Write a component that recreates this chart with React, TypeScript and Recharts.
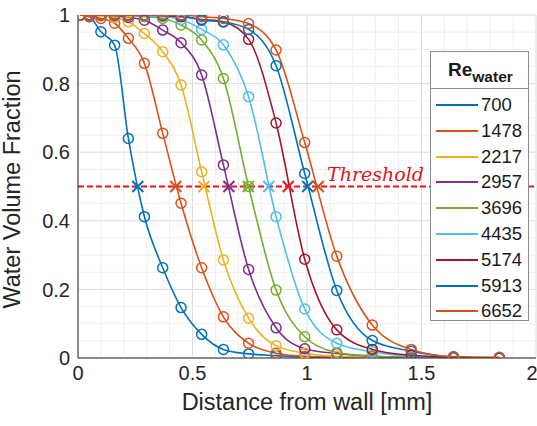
import React from 'react';
import {
  ComposedChart, Line, Scatter, XAxis, YAxis, CartesianGrid, ReferenceLine, Label,
} from 'recharts';

// ── Data ──────────────────────────────────────────────────────────────────────

// sampled distances from the wall [mm] (non-uniform mesh, shared by all runs)
const distance = [0.01, 0.05, 0.10, 0.16, 0.22, 0.29, 0.37, 0.45, 0.54, 0.635, 0.745, 0.865, 0.99, 1.13, 1.285, 1.455, 1.64, 1.84];

const reWater = ['700', '1478', '2217', '2957', '3696', '4435', '5174', '5913', '6652'];

const frac700  = [1, 0.995, 0.951, 0.912, 0.64, 0.412, 0.263, 0.147, 0.069, 0.025, 0.012, 0.007, 0.003, 0.002, 0.001, 0, 0, 0];
const frac1478 = [1, 0.996, 0.99, 0.976, 0.932, 0.859, 0.655, 0.451, 0.263, 0.12, 0.043, 0.014, 0.005, 0.002, 0.001, 0, 0, 0];
const frac2217 = [1, 1, 0.997, 0.993, 0.98, 0.946, 0.893, 0.796, 0.543, 0.286, 0.116, 0.036, 0.014, 0.005, 0.002, 0, 0, 0];
const frac2957 = [1, 1, 1, 0.998, 0.993, 0.985, 0.956, 0.919, 0.825, 0.563, 0.258, 0.088, 0.027, 0.013, 0.005, 0.001, 0, 0];
const frac3696 = [1, 1, 1, 1, 0.998, 0.995, 0.99, 0.971, 0.927, 0.815, 0.5, 0.198, 0.062, 0.016, 0.006, 0.002, 0, 0];
const frac4435 = [1, 1, 1, 1, 1, 0.998, 0.995, 0.987, 0.958, 0.913, 0.762, 0.412, 0.143, 0.043, 0.018, 0.005, 0.001, 0];
const frac5174 = [1, 1, 1, 1, 1, 1, 0.998, 0.995, 0.987, 0.98, 0.929, 0.685, 0.288, 0.082, 0.025, 0.008, 0.002, 0];
const frac5913 = [1, 1, 1, 1, 1, 1, 1, 0.998, 0.985, 0.98, 0.958, 0.852, 0.538, 0.197, 0.051, 0.02, 0.003, 0];
const frac6652 = [1, 1, 1, 1, 1, 1, 1, 1, 0.995, 0.99, 0.975, 0.898, 0.628, 0.297, 0.096, 0.025, 0.004, 0.002];

const fractions = [frac700, frac1478, frac2217, frac2957, frac3696, frac4435, frac5174, frac5913, frac6652];

// distance where each profile crosses the 0.5 threshold
const crossing = [0.261, 0.427, 0.55, 0.659, 0.744, 0.833, 0.918, 1.003, 1.049];

const threshold = 0.5;

const xTicks = [0, 0.5, 1, 1.5, 2];
const yTicks = [0, 0.2, 0.4, 0.6, 0.8, 1];
const xMinor = [0.1, 0.2, 0.3, 0.4, 0.6, 0.7, 0.8, 0.9, 1.1, 1.2, 1.3, 1.4, 1.6, 1.7, 1.8, 1.9];
const yMinor = [0.05, 0.1, 0.15, 0.25, 0.3, 0.35, 0.45, 0.5, 0.55, 0.65, 0.7, 0.75, 0.85, 0.9, 0.95];

// ── Palette ───────────────────────────────────────────────────────────────────

const COLORS = ['#0072BD', '#D95319', '#EDB120', '#7E2F8E', '#77AC30', '#4DBEEE', '#A2142F', '#0072BD', '#D95319'];
const CROSS_COLORS = ['#0072BD', '#D95319', '#EDB120', '#7E2F8E', '#77AC30', '#4DBEEE', '#F0141E', '#0072BD', '#D95319'];

const FONT = '"Liberation Sans", Arial, sans-serif';
const INK = '#262626';

// ── Helpers ───────────────────────────────────────────────────────────────────

const series = fractions.map((arr) => distance.map((x, i) => ({ x, y: arr[i] })));
const crossPoints = crossing.map((x, i) => ({ x, y: threshold, color: CROSS_COLORS[i] }));

function CrossMark(props: any) {
  const { cx, cy, payload } = props;
  const s = 5.5;
  const c = payload?.color ?? '#000';
  return (
    <g stroke={c} strokeWidth={2}>
      <line x1={cx - s} y1={cy - s} x2={cx + s} y2={cy + s} />
      <line x1={cx - s} y1={cy + s} x2={cx + s} y2={cy - s} />
    </g>
  );
}

function Legend() {
  return (
    <div style={{
      position: 'absolute', left: 430, top: 51, width: 97, height: 268,
      border: '1px solid #8c8c8c', background: '#fff', fontFamily: FONT, color: '#1a1a1a',
    }}>
      <div style={{ height: 36, borderBottom: '1px solid #8c8c8c', position: 'relative' }}>
        <span style={{ position: 'absolute', left: 17, top: 7, fontWeight: 700, fontSize: 19 }}>
          Re<sub style={{ fontSize: 15.5, verticalAlign: 'baseline', position: 'relative', top: 6 }}>water</sub>
        </span>
      </div>
      {reWater.map((r, i) => (
        <div key={r} style={{ position: 'absolute', left: 0, top: 42 + i * 25.8, height: 22, display: 'flex', alignItems: 'center' }}>
          <div style={{ marginLeft: 5, width: 42, height: 2, background: COLORS[i] }} />
          <span style={{ marginLeft: 3, fontSize: 18.5 }}>{r}</span>
        </div>
      ))}
    </div>
  );
}

// ── Main component ────────────────────────────────────────────────────────────

export default function App() {
  return (
    <div style={{ position: 'relative', width: 537, height: 426, background: '#fff', overflow: 'hidden' }}>
      <style>{'body{margin:0}'}</style>
      <ComposedChart width={537} height={426} margin={{ top: 15, right: 1, bottom: 0, left: 0 }}>
        {xMinor.map((v) => (
          <ReferenceLine key={'mx' + v} x={v} stroke="#efefef" strokeWidth={1} />
        ))}
        {yMinor.map((v) => (
          <ReferenceLine key={'my' + v} y={v} stroke="#efefef" strokeWidth={1} />
        ))}
        <CartesianGrid stroke="#dcdcdc" />
        <XAxis
          type="number" dataKey="x" domain={[0, 2]} ticks={xTicks} allowDataOverflow
          height={68} tickLine={false} axisLine={{ stroke: INK }}
          tick={{ fontSize: 20, fill: INK, fontFamily: FONT }}
        >
          <Label
            content={({ viewBox }: any) => (
              <text x={viewBox.x + viewBox.width / 2} y={viewBox.y + 52} textAnchor="middle"
                fontSize={23.5} fill={INK} fontFamily={FONT}>
                Distance from wall [mm]
              </text>
            )}
          />
        </XAxis>
        <YAxis
          type="number" domain={[0, 1]} ticks={yTicks} allowDataOverflow
          width={78} tickLine={false} axisLine={{ stroke: INK }}
          tick={{ fontSize: 20, fill: INK, fontFamily: FONT }}
        >
          <Label
            content={({ viewBox }: any) => {
              const cx = 19.5;
              const cy = viewBox.y + viewBox.height / 2 + 3;
              return (
                <text x={cx} y={cy} transform={`rotate(-90 ${cx} ${cy})`} textAnchor="middle"
                  fontSize={23.5} fill={INK} fontFamily={FONT}>
                  Water Volume Fraction
                </text>
              );
            }}
          />
        </YAxis>

        {series.map((d, i) => (
          <Line
            key={reWater[i]}
            data={d}
            dataKey="y"
            type="monotone"
            stroke={COLORS[i]}
            strokeWidth={1.6}
            dot={{ r: 5, fill: 'none', stroke: COLORS[i], strokeWidth: 1.5 }}
            activeDot={false}
            isAnimationActive={false}
          />
        ))}

        <ReferenceLine y={threshold} stroke="#E8141C" strokeWidth={1.8} strokeDasharray="6 3">
          <Label
            content={({ viewBox }: any) => (
              <text x={viewBox.x + 249} y={viewBox.y - 6} fontSize={19} fill="#D7191C"
                fontStyle="italic" fontFamily='"DejaVu Serif", serif'>
                Threshold
              </text>
            )}
          />
        </ReferenceLine>

        <Scatter data={crossPoints} dataKey="y" shape={<CrossMark />} isAnimationActive={false} />
      </ComposedChart>
      <Legend />
    </div>
  );
}
